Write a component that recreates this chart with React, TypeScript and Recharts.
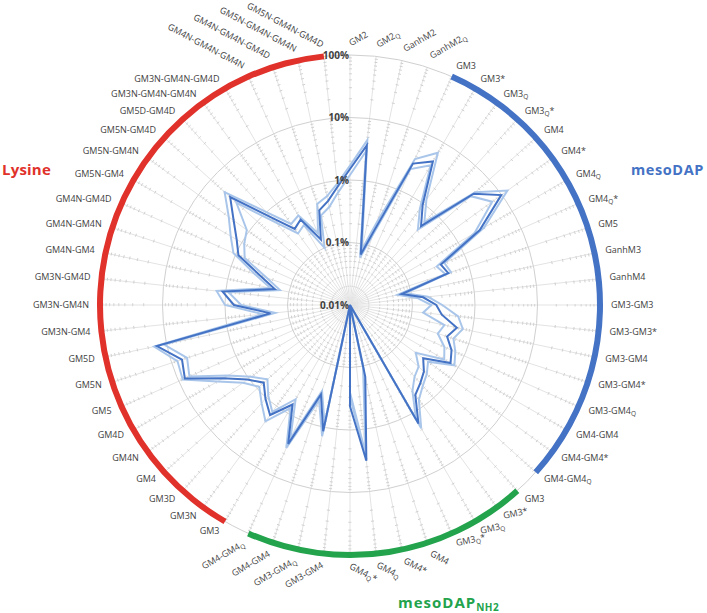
import React from "react";
import {
  RadarChart,
  Radar,
  PolarGrid,
  PolarAngleAxis,
  PolarRadiusAxis,
  PieChart,
  Pie,
  Cell,
} from "recharts";

const W = 707;
const H = 613;
const CX = 350;
const CY = 305;
const OUTER = 250;
const FONT = "'Open Sans', 'Noto Sans', sans-serif";

const BLUE = "#4472C4";
const GREEN = "#22A34C";
const RED = "#E0312A";
const LIGHT = "#A9C6EA";
const TEXT = "#3F3F3F";

// "_" marks a subscript: GM3_Q* -> GM3 + subscript Q + *
const freeCats = ["GM2", "GM2_Q", "GanhM2", "GanhM2_Q"];
const mesoDapCats = [
  "GM3", "GM3*", "GM3_Q", "GM3_Q*", "GM4", "GM4*", "GM4_Q", "GM4_Q*", "GM5",
  "GanhM3", "GanhM4", "GM3-GM3", "GM3-GM3*", "GM3-GM4", "GM3-GM4*", "GM3-GM4_Q",
  "GM4-GM4", "GM4-GM4*", "GM4-GM4_Q",
];
const mesoDapNh2Cats = [
  "GM3", "GM3*", "GM3_Q", "GM3_Q*", "GM4", "GM4*", "GM4_Q", "GM4_Q*",
  "GM3-GM4", "GM3-GM4_Q", "GM4-GM4", "GM4-GM4_Q",
];
const lysineCats = [
  "GM3", "GM3N", "GM3D", "GM4", "GM4N", "GM4D", "GM5", "GM5N", "GM5D",
  "GM3N-GM4", "GM3N-GM4N", "GM3N-GM4D", "GM4N-GM4", "GM4N-GM4N", "GM4N-GM4D",
  "GM5N-GM4", "GM5N-GM4N", "GM5N-GM4D", "GM5D-GM4D",
  "GM3N-GM4N-GM4N", "GM3N-GM4N-GM4D", "GM4N-GM4N-GM4N", "GM4N-GM4N-GM4D",
  "GM5N-GM4N-GM4N", "GM5N-GM4N-GM4D",
];

// relative abundance (%), same order as the categories above
const meanPct = [
  1.5, 3.7, 0.067, 0.18,
  3.0, 4.5, 0.95, 0.5, 4.6, 9.8, 2.5, 0.39, 0.45, 0.07, 0.15, 0.24, 0.3, 0.56, 0.43, 0.6, 0.72, 0.28, 0.39,
  0.48, 0.6, 1.55, 0.01, 0.01, 0.15, 3.2, 0.42, 0.01, 1.16, 0.32, 2.7,
  0.69, 1.5, 1.05, 0.72, 1.07, 2.2, 7.8, 6.7, 14.4, 0.19, 0.72, 1.12, 0.17, 0.32, 0.9,
  1.24, 2.0, 3.8, 0.77, 0.32, 0.38, 0.14, 0.39, 0.5, 0.8,
];
const rep1Pct = [
  1.7, 4.5, 0.08, 0.25,
  3.6, 6.5, 1.2, 0.6, 5.0, 13, 3.0, 0.45, 0.5, 0.08, 0.18, 0.3, 0.55, 0.7, 0.55, 0.7, 0.85, 0.35, 0.45,
  0.55, 0.75, 1.9, 0.01, 0.01, 0.12, 2.8, 0.3, 0.01, 1.4, 0.4, 3.2,
  0.8, 2.0, 1.3, 0.9, 1.3, 2.8, 8.5, 8.0, 16, 0.25, 1.0, 1.4, 0.2, 0.4, 1.1,
  1.6, 2.5, 5.0, 1.0, 0.4, 0.45, 0.18, 0.5, 0.6, 0.9,
];
const rep2Pct = [
  1.2, 3.0, 0.06, 0.15,
  2.4, 3.8, 0.8, 0.42, 4.0, 6.5, 2.0, 0.33, 0.4, 0.06, 0.12, 0.2, 0.15, 0.35, 0.3, 0.45, 0.55, 0.2, 0.3,
  0.35, 0.5, 1.3, 0.01, 0.01, 0.1, 2.5, 0.25, 0.01, 0.9, 0.28, 2.2,
  0.55, 1.3, 0.9, 0.6, 0.9, 1.8, 6.5, 5.5, 11, 0.16, 0.55, 0.9, 0.14, 0.25, 0.7,
  0.9, 1.1, 2.8, 0.6, 0.26, 0.3, 0.1, 0.32, 0.4, 0.65,
];

const radiusTicks = [-2, -1, 0, 1, 2];
const radiusTickLabels = ["0.01%", "0.1%", "1%", "10%", "100%"];

const allCats = [...freeCats, ...mesoDapCats, ...mesoDapNh2Cats, ...lysineCats];
const STEP = 360 / allCats.length;

const data = allCats.map((c, i) => ({
  key: String(i),
  mean: Math.log10(meanPct[i]),
  rep1: Math.log10(rep1Pct[i]),
  rep2: Math.log10(rep2Pct[i]),
}));

// outer coloured arcs: from first to last category of each group
const arcGroups = [
  { cats: mesoDapCats, color: BLUE },
  { cats: mesoDapNh2Cats, color: GREEN },
  { cats: lysineCats, color: RED },
];
const arcSegments = [{ span: freeCats.length * STEP, color: "none" }];
arcGroups.forEach((g) => {
  arcSegments.push({ span: (g.cats.length - 1) * STEP, color: g.color });
  arcSegments.push({ span: STEP, color: "none" });
});

const rOf = (v: number) => (OUTER * (v + 2)) / 4;
const minorRadii: number[] = [];
[-2, -1, 0, 1].forEach((k) => {
  for (let m = 2; m <= 9; m++) minorRadii.push(rOf(k + Math.log10(m)));
});

function LabelText({ text, ...rest }: any) {
  const parts = text.split("_");
  if (parts.length === 1) return <text {...rest}>{text}</text>;
  const sub = parts[1].slice(0, 1);
  const after = parts[1].slice(1);
  return (
    <text {...rest}>
      {parts[0]}
      <tspan fontSize={6.5} dy={2}>{sub}</tspan>
      {after ? <tspan dy={-2}>{after}</tspan> : null}
    </text>
  );
}

function CategoryTick(props: any) {
  const { x, y, payload } = props;
  const i = Number(payload.value);
  const deg = (((90 - payload.coordinate) % 360) + 360) % 360;
  let anchor = "start";
  let rot = 0;
  if (deg <= 19) rot = -30;
  else if (deg < 140) rot = 0;
  else if (deg < 159) rot = -12;
  else if (deg < 183) rot = 28;
  else if (deg < 207) { anchor = "end"; rot = -30; }
  else if (deg < 333) anchor = "end";
  else { anchor = "end"; rot = 28; }
  return (
    <LabelText
      text={allCats[i]}
      x={x}
      y={y}
      dy="0.3em"
      textAnchor={anchor}
      fontSize={9}
      fontFamily={FONT}
      fill={TEXT}
      transform={rot ? `rotate(${rot}, ${x}, ${y})` : undefined}
    />
  );
}

function RadiusTick(props: any) {
  const { x, y, payload } = props;
  const idx = radiusTicks.indexOf(payload.value);
  return (
    <text x={x - 1} y={y} dy="0.35em" textAnchor="end" fontSize={10} fontWeight={700} fontFamily={FONT} fill={TEXT}>
      {radiusTickLabels[idx]}
    </text>
  );
}

export default function App() {
  return (
    <div style={{ position: "absolute", left: 0, top: 0, width: W, height: H, background: "#fff", fontFamily: FONT }}>
      <RadarChart width={W} height={H} data={data} cx={CX} cy={CY} outerRadius={OUTER} margin={{ top: 0, right: 0, bottom: 0, left: 0 }}>
        <PolarGrid gridType="circle" polarRadius={[]} stroke="#E3E3E3" strokeWidth={1} />
        {minorRadii.map((r) => {
          const seg = (2 * Math.PI * r) / allCats.length;
          const d = Math.min(3, seg * 0.6);
          return (
            <PolarGrid
              key={r}
              gridType="circle"
              radialLines={false}
              polarRadius={[r]}
              stroke="#CFCFCF"
              strokeWidth={1}
              strokeDasharray={`${d} ${seg - d}`}
              strokeDashoffset={d / 2}
            />
          );
        })}
        <PolarGrid gridType="circle" radialLines={false} polarRadius={radiusTicks.map(rOf)} stroke="#D0D0D0" strokeWidth={1} />
        <PolarAngleAxis dataKey="key" tick={<CategoryTick />} tickLine={false} axisLine={false} tickSize={11} />
        <PolarRadiusAxis
          angle={90}
          type="number"
          domain={[-2, 2]}
          ticks={radiusTicks}
          tickCount={5}
          axisLine={false}
          tick={<RadiusTick />}
        />
        <Radar dataKey="rep1" stroke={LIGHT} strokeWidth={2} fill="none" fillOpacity={0} dot={false} isAnimationActive={false} />
        <Radar dataKey="rep2" stroke={LIGHT} strokeWidth={2} fill="none" fillOpacity={0} dot={false} isAnimationActive={false} />
        <Radar dataKey="mean" stroke={BLUE} strokeWidth={2} fill="none" fillOpacity={0} dot={false} isAnimationActive={false} />
      </RadarChart>
      <div style={{ position: "absolute", left: 0, top: 0, pointerEvents: "none" }}>
        <PieChart width={W} height={H} margin={{ top: 0, right: 0, bottom: 0, left: 0 }}>
          <Pie
            data={arcSegments}
            dataKey="span"
            cx={CX}
            cy={CY}
            innerRadius={247}
            outerRadius={253}
            startAngle={90}
            endAngle={-270}
            stroke="none"
            isAnimationActive={false}
          >
            {arcSegments.map((s, i) => (
              <Cell key={i} fill={s.color} stroke="none" />
            ))}
          </Pie>
        </PieChart>
      </div>
      <svg width={W} height={H} style={{ position: "absolute", left: 0, top: 0, pointerEvents: "none" }}>
        <text x={704} y={175} textAnchor="end" fontSize={14.5} fontWeight={700} letterSpacing={0.6} fill={BLUE} fontFamily={FONT}>
          mesoDAP
        </text>
        <text x={2} y={175} fontSize={15} fontWeight={700} letterSpacing={0.2} fill={RED} fontFamily={FONT}>
          Lysine
        </text>
        <text x={398} y={608} fontSize={15} fontWeight={700} letterSpacing={1} fill={GREEN} fontFamily={FONT}>
          mesoDAP
          <tspan fontSize={10} dy={3} letterSpacing={0.5}>NH2</tspan>
        </text>
      </svg>
    </div>
  );
}
